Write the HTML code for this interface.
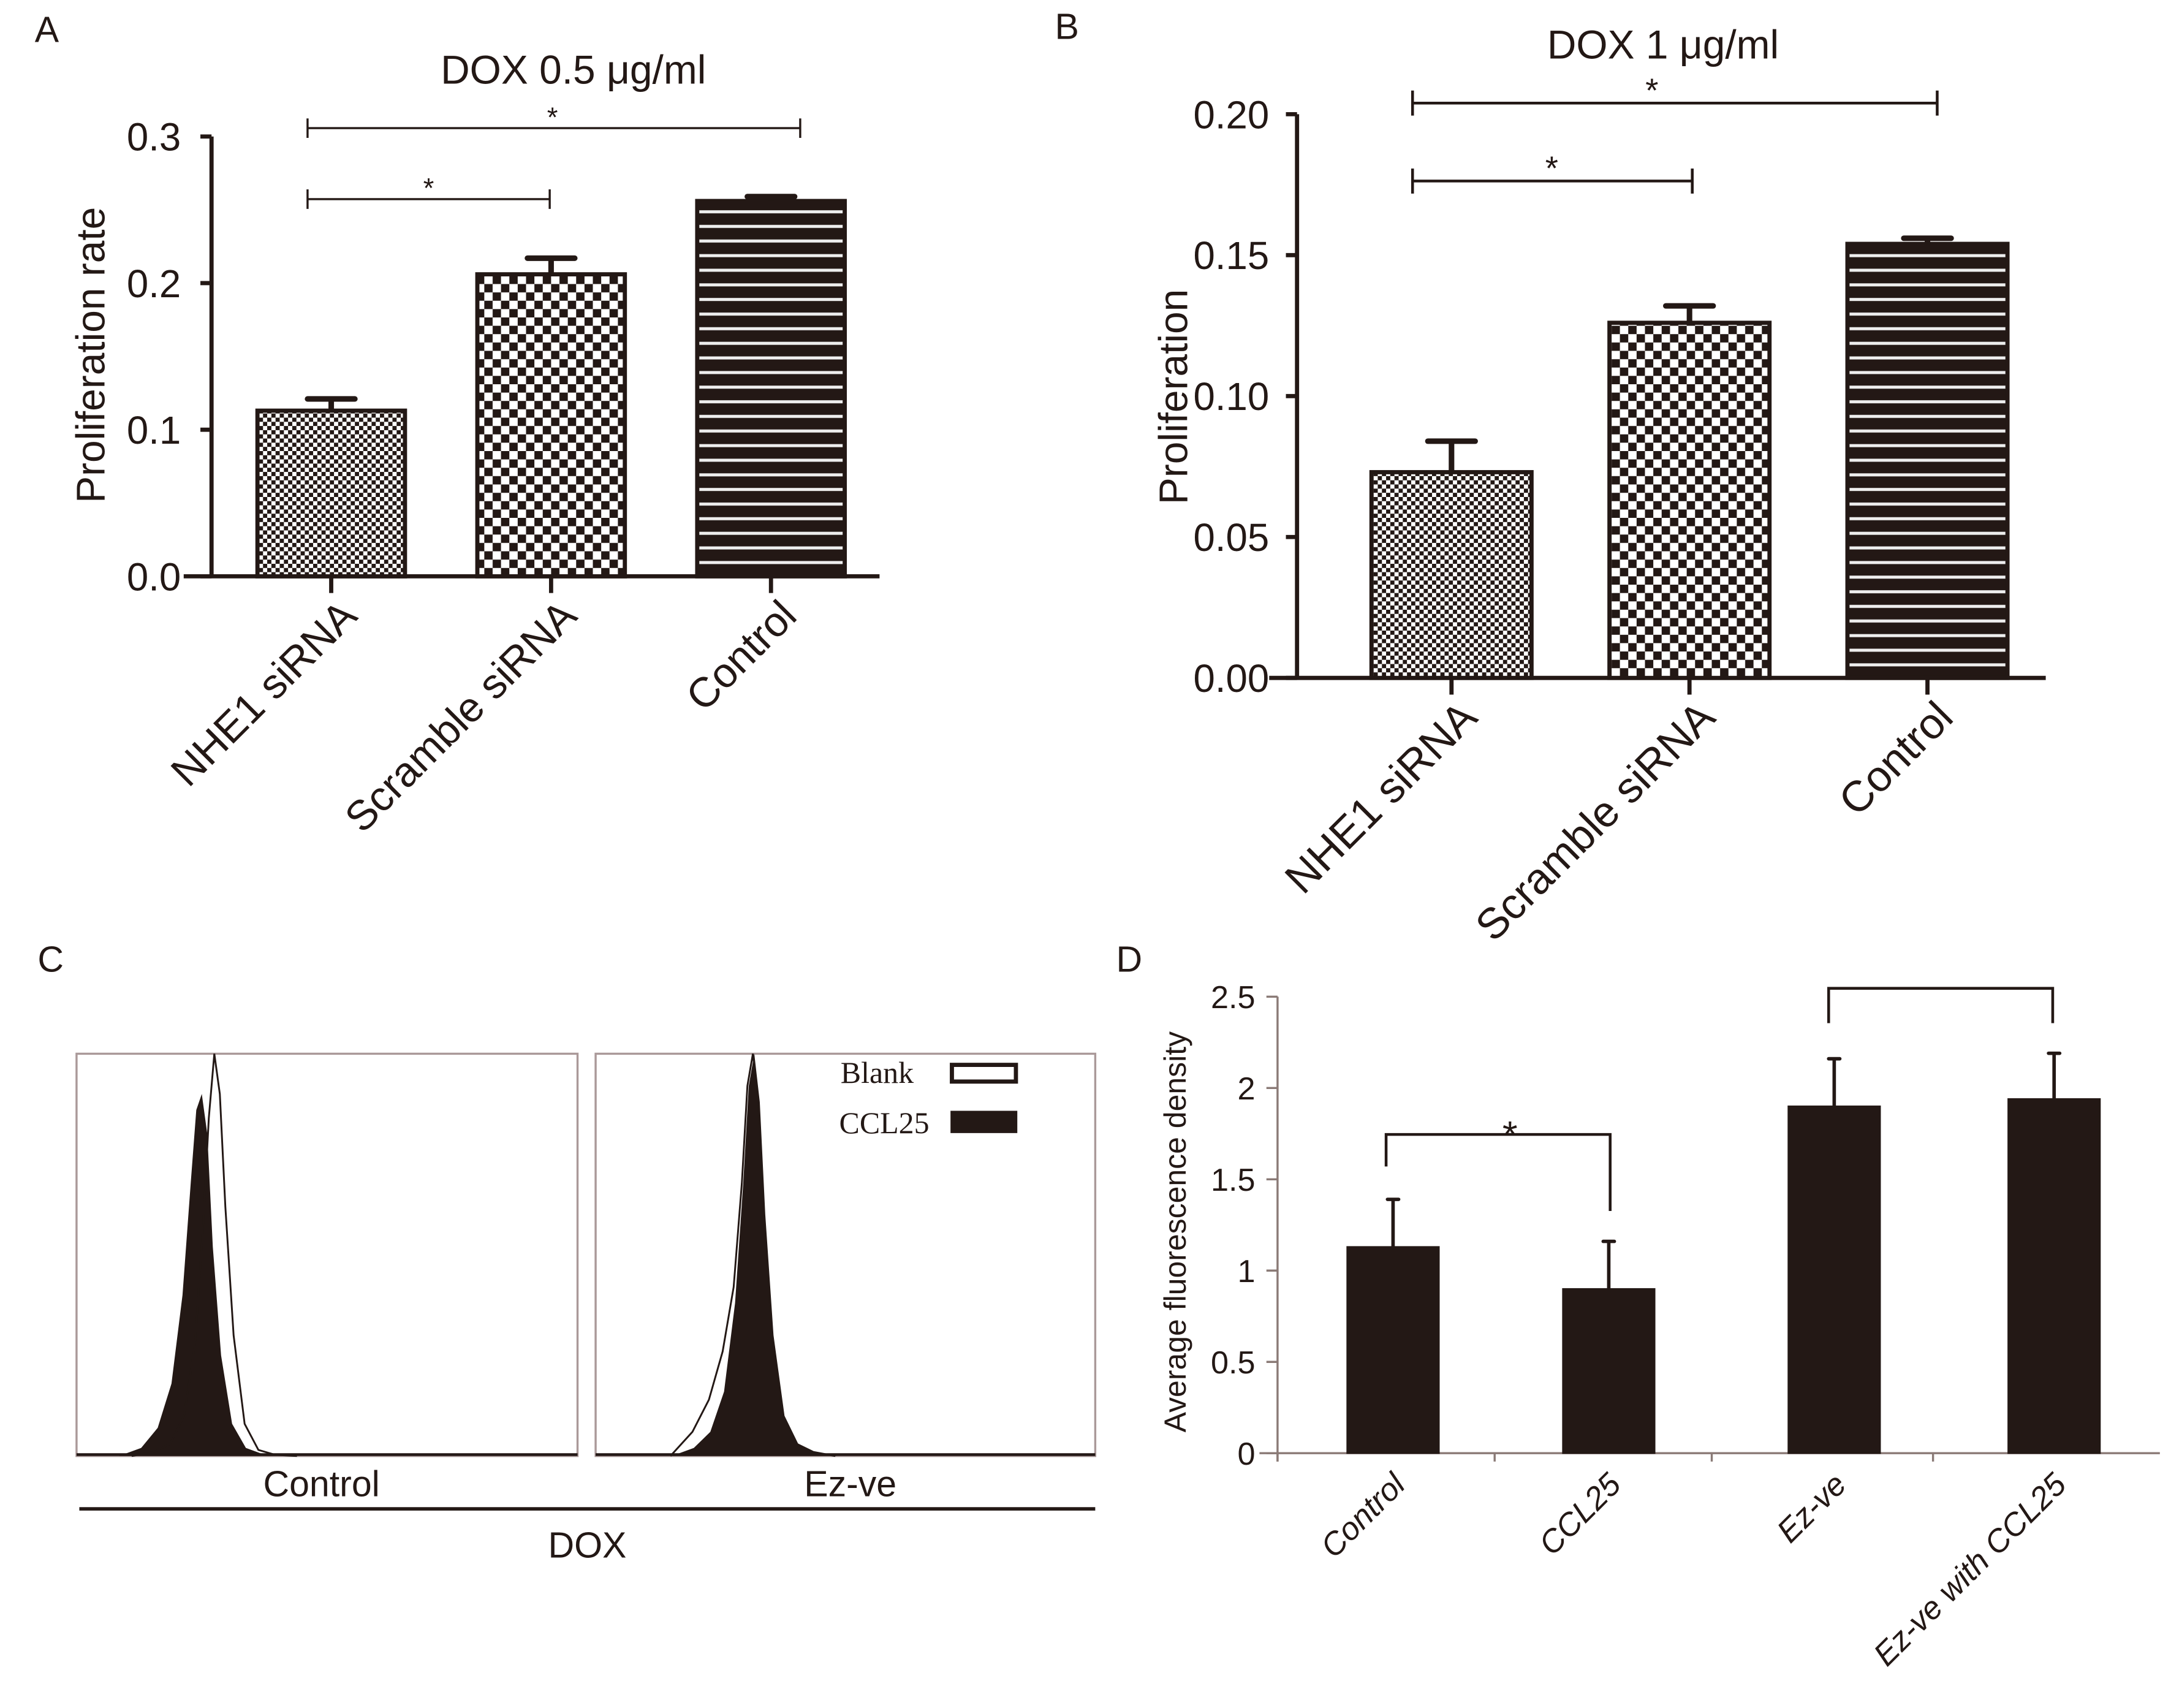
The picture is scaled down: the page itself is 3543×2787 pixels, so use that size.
<!DOCTYPE html>
<html><head><meta charset="utf-8"><style>
html,body{margin:0;padding:0;background:#fff;}
svg{display:block;font-family:"Liberation Sans",sans-serif;}
</style></head><body>
<svg id="fig" xmlns="http://www.w3.org/2000/svg" width="3543" height="2787" viewBox="0 0 1560 1227">
<defs>
<pattern id="pFine" width="6" height="6" patternUnits="userSpaceOnUse"><rect width="6" height="6" fill="#fff"/><rect width="3" height="3" fill="#231815"/><rect x="3" y="3" width="3" height="3" fill="#231815"/></pattern>
<pattern id="pCheck" width="12" height="12" patternUnits="userSpaceOnUse"><rect width="12" height="12" fill="#fff"/><rect width="6" height="6" fill="#231815"/><rect x="6" y="6" width="6" height="6" fill="#231815"/></pattern>
<pattern id="pStripe" width="10" height="10.5" patternUnits="userSpaceOnUse"><rect width="10" height="10.5" fill="#231815"/><rect y="4" width="10" height="2.2" fill="#eee"/></pattern>
</defs>
<g id="root"></g>
</svg>
<script>
// Panel A data
const catsA = ["NHE1 siRNA","Scramble siRNA","Control"];
const valsA = [0.113, 0.206, 0.256];
const errA = [0.008, 0.011, 0.003];
const ticksA = [0.0, 0.1, 0.2, 0.3];
const tickLabelsA = ["0.0","0.1","0.2","0.3"];
// Panel B data
const catsB = ["NHE1 siRNA","Scramble siRNA","Control"];
const valsB = [0.073, 0.126, 0.154];
const errB = [0.011, 0.006, 0.002];
const ticksB = [0.00, 0.05, 0.10, 0.15, 0.20];
const tickLabelsB = ["0.00","0.05","0.10","0.15","0.20"];
// Panel D data
const catsD = ["Control","CCL25","Ez-ve","Ez-ve with CCL25"];
const valsD = [1.13, 0.90, 1.90, 1.94];
const errD = [0.26, 0.26, 0.26, 0.25];
const ticksD = [0, 0.5, 1, 1.5, 2, 2.5];
const tickLabelsD = ["0","0.5","1","1.5","2","2.5"];
// Panel C histogram samples (relative channel position, relative height)
const histPos = [-0.30,-0.22,-0.16,-0.11,-0.07,-0.04,-0.02,0,0.02,0.04,0.07,0.11,0.16,0.22,0.30];
const ctrlFilled = [0.00,0.02,0.07,0.18,0.40,0.68,0.86,0.90,0.80,0.52,0.25,0.08,0.02,0.005,0.00];
const ctrlBlank  = [0.00,0.01,0.03,0.10,0.28,0.58,0.84,1.00,0.90,0.62,0.30,0.08,0.015,0.003,0.00];
const ezFilled   = [0.00,0.02,0.06,0.16,0.38,0.68,0.92,1.00,0.88,0.60,0.30,0.10,0.03,0.01,0.00];
const ezBlank    = [0.00,0.06,0.14,0.26,0.42,0.68,0.92,1.00,0.88,0.60,0.30,0.10,0.03,0.01,0.00];

const NS="http://www.w3.org/2000/svg";
const root=document.getElementById('root');
function mk(tag,attrs,parent,text){const e=document.createElementNS(NS,tag);for(const k in attrs)e.setAttribute(k,attrs[k]);if(text!==undefined)e.textContent=text;(parent||root).appendChild(e);return e;}

function barPanel(cfg){
  const g=mk('g',{});
  
  
  const y=v=>cfg.y0-(v-cfg.vmin)/(cfg.vmax-cfg.vmin)*(cfg.y0-cfg.y1);
  const ax=mk('line',{x1:cfg.ax,y1:cfg.y0+ (cfg.extendAxis||0),x2:cfg.ax,y2:y(cfg.vmax),stroke:cfg.axColor,'stroke-width':cfg.aw},g);
  
  
  const xl=mk('line',{x1:cfg.xa0,y1:cfg.y0,x2:cfg.xa1,y2:cfg.y0,stroke:cfg.axColor,'stroke-width':cfg.aw},g);
  
  
  cfg.ticks.forEach((t,i)=>{
    mk('line',{x1:cfg.ax-8,y1:y(t),x2:cfg.ax,y2:y(t),stroke:cfg.axColor,'stroke-width':cfg.aw},g);
    const tl=mk('text',{x:cfg.ax-(cfg.lgap||18),y:y(t)+cfg.fs*0.36,'text-anchor':'end','font-size':cfg.fs,fill:'#231815'},g,cfg.tickLabels[i]);
    
    
  });
  cfg.cats.forEach((c,i)=>{
    const cx=cfg.centers[i];
    const top=y(cfg.vals[i]);
    const b=mk('rect',{x:cx-cfg.bw/2,y:top,width:cfg.bw,height:cfg.y0-top,fill:cfg.fills[i],stroke:'#231815','stroke-width':cfg.bs},g);
    
    
    const et=y(cfg.vals[i]+cfg.errs[i]);
    const e1=mk('line',{x1:cx,y1:top,x2:cx,y2:et,stroke:'#231815','stroke-width':cfg.ew},g);
    
    
    mk('line',{x1:cx-cfg.cap,y1:et,x2:cx+cfg.cap,y2:et,stroke:'#231815','stroke-width':cfg.ew,'stroke-linecap':'round'},g);
    if(cfg.xtick) mk('line',{x1:cfg.xtickX? cfg.xtickX[i]:cx,y1:cfg.y0,x2:cfg.xtickX?cfg.xtickX[i]:cx,y2:cfg.y0+cfg.xtick,stroke:cfg.axColor,'stroke-width':cfg.aw},g);
    const lx=cx+cfg.lblDx, ly=cfg.y0+cfg.lblDy;
    const t=mk('text',{x:lx,y:ly,'text-anchor':'end','font-size':cfg.lfs,'font-style':cfg.italic?'italic':'normal',fill:'#231815',transform:`rotate(-45 ${lx} ${ly})`},g,c);
    
    
  });
  return {g,y};
}

// Panel A
barPanel({name:'panel-a-chart',cats:catsA,vals:valsA,errs:errA,ticks:ticksA,tickLabels:tickLabelsA,vmin:0,vmax:0.3,y0:414,y1:98,ax:152,xa0:132,xa1:632,aw:3,axColor:'#231815',fs:28,lgap:22,centers:[238,396,554],bw:106,fills:['url(#pFine)','url(#pCheck)','url(#pStripe)'],bs:3,ew:4,cap:17,xtick:12,lblDx:20,lblDy:30,lfs:30});
[[143,221,395,308],[92,221,575,397]].forEach(([yy,x1,x2,sx])=>{
  const br=mk('path',{d:`M${x1} ${yy-7}V${yy+7}M${x1} ${yy}H${x2}M${x2} ${yy-7}V${yy+7}`,stroke:'#231815','stroke-width':1.5,fill:'none'});
  
  
  mk('text',{x:sx,y:yy-1,'text-anchor':'middle','font-size':20,fill:'#231815'},root,'*');
});
let t;
t=mk('text',{x:412,y:60,'text-anchor':'middle','font-size':29,fill:'#231815'},root,'DOX 0.5 μg/ml');

t=mk('text',{x:75,y:255,'text-anchor':'middle','font-size':29,fill:'#231815',transform:'rotate(-90 75 255)'},root,'Proliferation rate');


// Panel B
barPanel({name:'panel-b-chart',cats:catsB,vals:valsB,errs:errB,ticks:ticksB,tickLabels:tickLabelsB,vmin:0,vmax:0.2,y0:487,y1:82,ax:932,xa0:912,xa1:1470,aw:3,axColor:'#231815',fs:28,lgap:20,centers:[1043,1214,1385],bw:115,fills:['url(#pFine)','url(#pCheck)','url(#pStripe)'],bs:3,ew:4,cap:17,xtick:12,lblDx:20,lblDy:30,lfs:31});
[[130,1015,1216,1115],[74,1015,1392,1187]].forEach(([yy,x1,x2,sx])=>{
  const br=mk('path',{d:`M${x1} ${yy-9}V${yy+9}M${x1} ${yy}H${x2}M${x2} ${yy-9}V${yy+9}`,stroke:'#231815','stroke-width':2,fill:'none'});
  
  
  mk('text',{x:sx,y:yy-1,'text-anchor':'middle','font-size':24,fill:'#231815'},root,'*');
});
t=mk('text',{x:1195,y:42,'text-anchor':'middle','font-size':29,fill:'#231815'},root,'DOX 1 μg/ml');

t=mk('text',{x:853,y:285,'text-anchor':'middle','font-size':29,fill:'#231815',transform:'rotate(-90 853 285)'},root,'Proliferation');


// Panel D
barPanel({name:'panel-d-chart',cats:catsD,vals:valsD,errs:errD,ticks:ticksD,tickLabels:tickLabelsD,vmin:0,vmax:2.5,y0:1044,y1:716,ax:918,xa0:905,xa1:1552,aw:1.5,axColor:'#8a7a76',fs:23,lgap:16,centers:[1001,1156,1318,1476],bw:66,fills:['#231815','#231815','#231815','#231815'],bs:1,ew:2.5,cap:4,xtick:6,xtickX:[918,1074,1230,1389],lblDx:10,lblDy:24,lfs:23,italic:true,extendAxis:6});
[[815,996,1157,838,870,1085],[710,1314,1475,735,735,null]].forEach(([yy,x1,x2,d1,d2,sx])=>{
  const br=mk('path',{d:`M${x1} ${d1}V${yy}H${x2}V${d2}`,stroke:'#231815','stroke-width':2,fill:'none'});
  
  
  if(sx) mk('text',{x:sx,y:yy+10,'text-anchor':'middle','font-size':28,fill:'#231815'},root,'*');
});
t=mk('text',{x:852,y:885,'text-anchor':'middle','font-size':22,fill:'#231815',transform:'rotate(-90 852 885)'},root,'Average fluorescence density');


// Panel C histograms
function histo(x0,x1,peakX,filled,blank,blankShift,name){
  const g=mk('g',{});
  
  
  const top=757,bot=1046,w=x1-x0,H=bot-top;
  const fr=mk('rect',{x:x0,y:top,width:w,height:bot-top,fill:'#fff',stroke:'#a99',"stroke-width":1.5},g);
  
  
  const px=(p,s)=>peakX+s+p*w*0.55;
  let d=`M${px(histPos[0],0)} ${bot}`;
  histPos.forEach((p,i)=>{d+=` L${px(p,0)} ${bot-filled[i]*H}`;});
  d+=' Z';
  const f=mk('path',{d,fill:'#231815'},g);
  
  
  let d2='';
  histPos.forEach((p,i)=>{d2+=(i?' L':'M')+px(p,blankShift)+' '+(bot-blank[i]*H);});
  const b=mk('path',{d:d2,fill:'none',stroke:'#231815','stroke-width':1.3},g);
  
  
  mk('line',{x1:x0,y1:bot-1,x2:x1,y2:bot-1,stroke:'#231815','stroke-width':2},g);
}
histo(55,415,145,ctrlFilled,ctrlBlank,9,'control-histogram');
histo(428,787,542,ezFilled,ezBlank,-1,'ez-ve-histogram');
// legend
t=mk('text',{x:604,y:778,'font-size':22,'font-family':'"Liberation Serif",serif',fill:'#231815'},root,'Blank');

t=mk('rect',{x:684,y:765,width:46,height:12,fill:'#fff',stroke:'#231815','stroke-width':3},root);

t=mk('text',{x:603,y:814,'font-size':22,'font-family':'"Liberation Serif",serif',fill:'#231815'},root,'CCL25');

t=mk('rect',{x:683,y:798,width:48,height:16,fill:'#231815'},root);

t=mk('text',{x:231,y:1075,'text-anchor':'middle','font-size':26,fill:'#231815'},root,'Control');

t=mk('text',{x:611,y:1075,'text-anchor':'middle','font-size':26,fill:'#231815'},root,'Ez-ve');

t=mk('line',{x1:57,y1:1084,x2:787,y2:1084,stroke:'#231815','stroke-width':2.5},root);

t=mk('text',{x:422,y:1119,'text-anchor':'middle','font-size':26,fill:'#231815'},root,'DOX');


// panel letters
[['A',25,30],['B',758,28],['C',27,698],['D',802,698]].forEach(([l,x,y])=>{
  const e=mk('text',{x,y,'font-size':26,fill:'#231815'},root,l);
  
  
});
</script>
</body></html>
